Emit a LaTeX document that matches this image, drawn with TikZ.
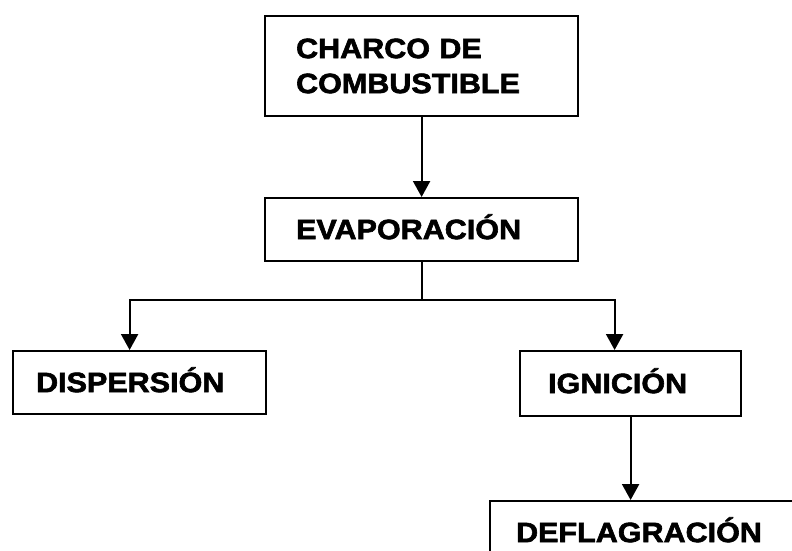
\documentclass[tikz,border=0pt]{standalone}
\usepackage{fontspec}
\setmainfont{Liberation Sans}
\newfontfamily\heavyfont[FakeBold=2.2, FakeStretch=1.09]{Liberation Sans Bold}
\usetikzlibrary{arrows.meta}

\begin{document}
\begin{tikzpicture}[x=1pt, y=-1pt,
    box/.style={draw, line width=2.2pt, anchor=north west, align=left,
        inner ysep=0pt, text height=19pt, text depth=0pt,
        font=\fontsize{28}{35}\selectfont\heavyfont},
    arrow/.style={line width=2.2pt, -{Triangle[length=16pt, width=17pt]}}]
    % 1. Frame of the picture
    \useasboundingbox (0,0) rectangle (792,550);
    \clip (0,0) rectangle (792,550);

    % 2. Boxes
    \node[box, text width=251pt, inner xsep=31pt, minimum height=100pt, text depth=35pt] (charco) at (264,15) {CHARCO DE\\COMBUSTIBLE};
    \node[box, text width=251pt, inner xsep=31pt, minimum height=63pt] (evap) at (264,197) {EVAPORACIÓN};
    \node[box, text width=207pt, inner xsep=23pt, minimum height=63pt] (disp) at (12,350) {DISPERSIÓN};
    \node[box, text width=165pt, inner xsep=28pt, minimum height=65pt] (ign) at (519,350) {IGNICIÓN};
    \node[box, text width=278pt, inner xsep=26pt, minimum height=63pt] (defl) at (489,500) {DEFLAGRACIÓN};

    % 3. Branch point under the evaporation box
    \coordinate (split) at (evap.south |- 0,300);

    % 4. Connectors
    \draw[arrow] (charco.south -| evap.north) -- (evap.north);
    \draw[line width=2.2pt] (evap.south) -- (split);
    \draw[arrow] (split) -| ([xshift=-10pt]disp.north);
    \draw[arrow] (split) -| ([xshift=-16pt]ign.north);
    \draw[arrow] (ign.south) -- (ign.south |- defl.north);

\end{tikzpicture}
\end{document}
